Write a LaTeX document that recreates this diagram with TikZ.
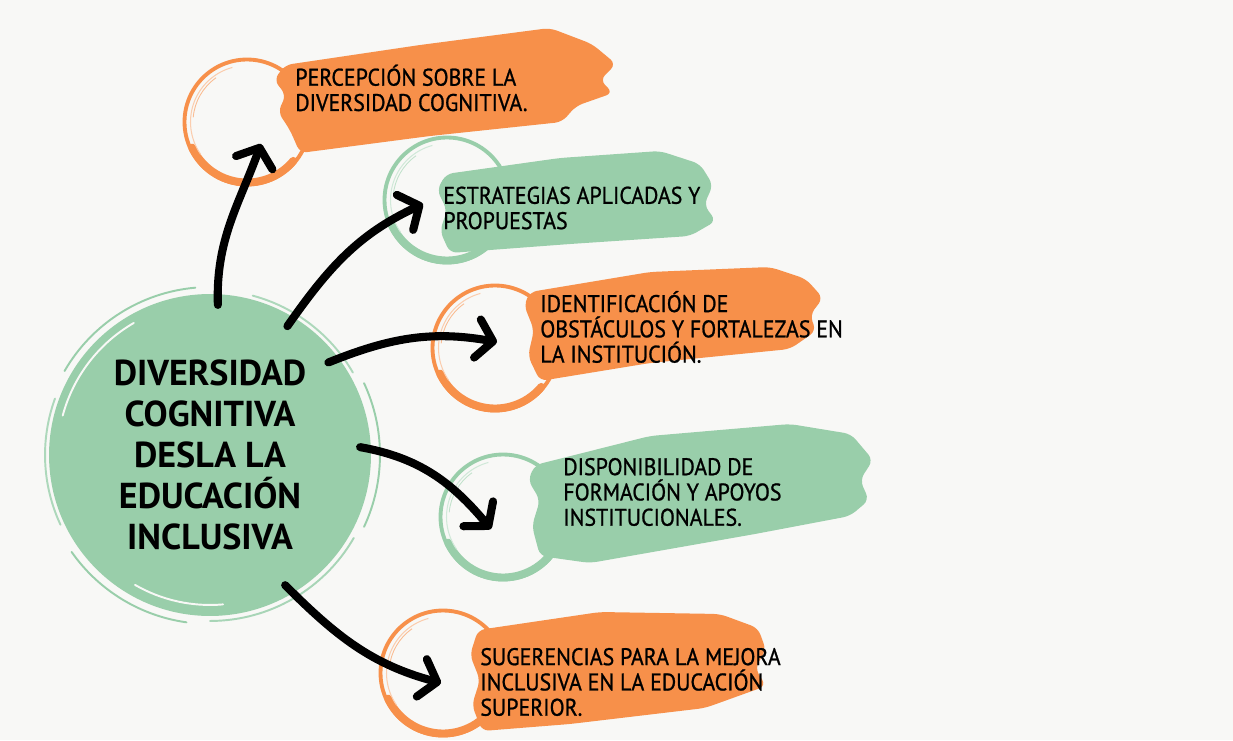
\documentclass[tikz,border=0pt]{standalone}
\usepackage{fontspec}
\usepackage{tikz}
\usetikzlibrary{arrows.meta,calc}
\newfontfamily\labelFont[FakeStretch=0.91, FakeBold=0.9]{PT Sans}
\newfontfamily\hubFont[FakeStretch=1.0]{PT Sans}
\definecolor{brushOrange}{RGB}{247,144,74}
\definecolor{brushGreen}{RGB}{153,206,170}
\definecolor{pageColor}{RGB}{248,248,246}
\tikzstyle{canvasPage} = [x=0.02cm, y=-0.02cm]
\tikzstyle{ringStyle} = [circle, minimum size=2.5cm, inner sep=0, line width=2.2pt]
\tikzstyle{labelText} = [font=\labelFont\fontsize{13.7}{14.4}\selectfont, align=left, anchor=west, inner sep=0]
\tikzstyle{hubStyle} = [circle, minimum size=6cm, inner sep=0, align=center, font=\hubFont\bfseries\fontsize{20.5}{23.3}\selectfont]
\tikzstyle{arrowLine} = [line width=4.6pt, line cap=round, -{Straight Barb[length=9pt, width=22pt, round]}]
\newcommand{\ringCircle}[4]{
  \node [ringStyle, draw=#4] (#1) at (#2,#3) {};
  \draw [#4, line width=4.5pt, line cap=round] ($(#1.center)+(205:1.21cm)$) arc [start angle=205, end angle=320, radius=1.21cm];
  \draw [#4!45!white, line width=.6pt] ($(#1.center)+(105:1.13cm)$) arc [start angle=105, end angle=215, radius=1.13cm];
  \draw [#4!60!white, line width=.5pt] ($(#1.center)+(125:1.08cm)$) arc [start angle=125, end angle=175, radius=1.08cm];
}
\newcommand{\hubStreak}[4]{\draw [#4, line width=1.1pt, line cap=round] ($(hub.center)+(#1:#3cm)$) arc [start angle=#1, end angle=#2, radius=#3cm];}

\begin{document}
\begin{tikzpicture}[canvasPage]
\fill [pageColor] (0,0) rectangle (1233,740);
\useasboundingbox (0,0) rectangle (1233,740);

% central disk
\fill [brushGreen] (210,455) circle [radius=3.22cm];
\node [hubStyle] (hub) at (210,455) {DIVERSIDAD\\COGNITIVA\\DESLA LA\\EDUCACIÓN\\INCLUSIVA};
\hubStreak{95}{150}{3.36}{brushGreen}
\hubStreak{160}{205}{3.3}{brushGreen!80}
\hubStreak{215}{262}{3.38}{brushGreen}
\hubStreak{270}{330}{3.32}{brushGreen!85}
\hubStreak{335}{385}{3.4}{brushGreen}
\hubStreak{30}{75}{3.3}{brushGreen!80}
\hubStreak{120}{165}{3.05}{pageColor}
\hubStreak{240}{275}{3.0}{pageColor}

% rings
\ringCircle{r1}{247}{122}{brushOrange}
\ringCircle{r2}{447}{200}{brushGreen}
\ringCircle{r3}{495}{348}{brushOrange}
\ringCircle{r4}{503}{517}{brushGreen}
\ringCircle{r5}{443}{673}{brushOrange}

% brush strokes
\fill [brushOrange, rounded corners=4pt] (285,65) -- (420,45) -- (550,28) -- (592,44) -- (616,64) -- (600,80) -- (613,93) -- (576,106) -- (562,122) -- (430,136) -- (300,153) -- (290,130) -- (278,112) -- (286,95) -- (274,80) -- cycle;
\fill [brushGreen, rounded corners=4pt] (446,174) -- (560,158) -- (660,151) -- (700,164) -- (713,185) -- (704,205) -- (716,221) -- (690,236) -- (570,244) -- (450,253) -- (440,231) -- (447,210) -- (437,190) -- cycle;
\fill [brushOrange, rounded corners=4pt] (530,292) -- (650,272) -- (770,267) -- (806,279) -- (823,298) -- (810,315) -- (816,331) -- (790,349) -- (650,363) -- (540,381) -- (528,356) -- (534,330) -- (524,305) -- cycle;
\fill [brushGreen, rounded corners=4pt] (535,465) -- (650,436) -- (790,424) -- (851,434) -- (873,460) -- (860,480) -- (869,500) -- (850,516) -- (755,534) -- (590,563) -- (540,556) -- (532,526) -- (540,500) -- (528,480) -- cycle;
\fill [brushOrange, rounded corners=4pt] (478,630) -- (600,612) -- (720,614) -- (758,628) -- (766,650) -- (755,668) -- (766,686) -- (705,708) -- (570,724) -- (482,731) -- (472,705) -- (480,680) -- (470,655) -- cycle;

% labels
\node [labelText] (l1) at (295,88) {PERCEPCIÓN SOBRE LA\\DIVERSIDAD COGNITIVA.};
\node [labelText] (l2) at (443,208) {ESTRATEGIAS APLICADAS Y\\PROPUESTAS};
\node [labelText] (l3) at (540,327) {IDENTIFICACIÓN DE\\OBSTÁCULOS Y FORTALEZAS EN\\LA INSTITUCIÓN.};
\node [labelText] (l4) at (563,492) {DISPONIBILIDAD DE\\FORMACIÓN Y APOYOS\\INSTITUCIONALES.};
\node [labelText] (l5) at (480,682) {SUGERENCIAS PARA LA MEJORA\\INCLUSIVA EN LA EDUCACIÓN\\SUPERIOR.};

% arrow tips
\coordinate (t1) at (261,144);
\coordinate (t2) at (423,204);
\coordinate (t3) at (497,342);
\coordinate (t4) at (491,529);
\coordinate (t5) at (441,683);

\draw [arrowLine] (hub.87) to [out=92, in=250] (t1);
\draw [arrowLine] (hub.59) to [out=55, in=205] (t2);
\draw [arrowLine] (hub.38) to [out=22, in=170] (t3);
\draw [arrowLine] (hub.3) to [out=-10, in=130] (t4);
\draw [arrowLine] (hub.-60) to [out=-45, in=165] (t5);
\end{tikzpicture}
\end{document}
